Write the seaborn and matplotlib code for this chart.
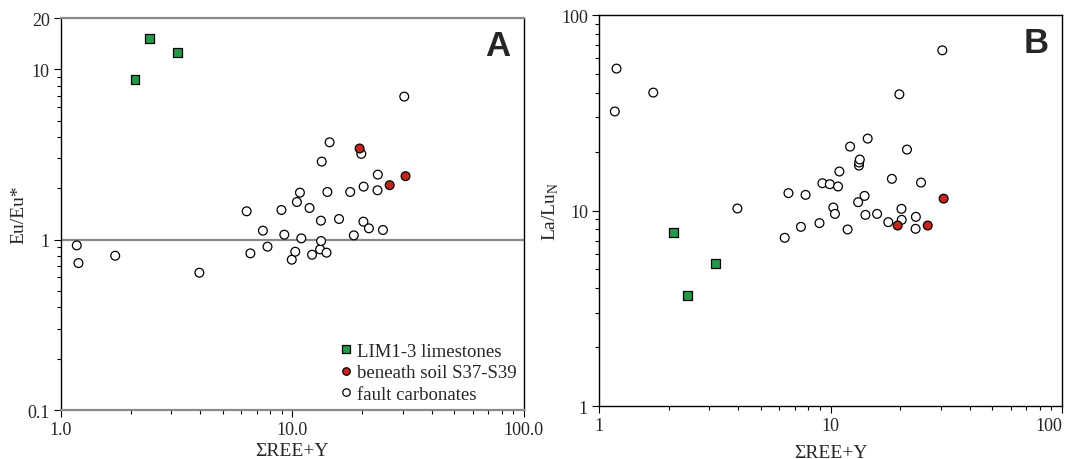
import numpy as np
import pandas as pd
import matplotlib
matplotlib.use('Agg')
import matplotlib.pyplot as plt
import seaborn as sns

# LIM1-3 limestones
lim_ree = [2.09, 2.42, 3.19]
lim_eu = [8.68, 15.2, 12.5]
lim_lalu = [7.69, 3.68, 5.34]

# beneath soil S37-S39
soil_ree = [19.5, 26.3, 30.8]
soil_eu = [3.43, 2.09, 2.36]
soil_lalu = [8.38, 8.38, 11.5]

# fault carbonates
fault_ree = [1.17, 1.19, 1.715, 3.96, 6.34, 6.58, 7.45, 7.8, 8.96, 9.22,
             9.93, 10.28, 10.45, 10.77, 10.92, 11.85, 12.15, 13.16, 13.27, 13.29,
             13.38, 14.03, 14.15, 14.47, 15.89, 17.76, 18.41, 19.83, 20.25, 20.3,
             21.39, 23.3, 23.37, 24.6, 30.4]
fault_eu = [0.926, 0.729, 0.805, 0.640, 1.468, 0.831, 1.130, 0.910, 1.494, 1.070,
            0.763, 0.850, 1.664, 1.889, 1.018, 1.535, 0.816, 0.877, 1.293, 0.982,
            2.873, 0.839, 1.906, 3.73, 1.323, 1.906, 1.060, 3.19, 1.276, 2.049,
            1.166, 1.950, 2.410, 1.140, 6.92]
fault_lalu = [32.1, 53.2, 40.1, 10.24, 7.25, 12.27, 8.25, 12.02, 8.62, 13.79,
              13.63, 10.36, 9.61, 13.27, 15.83, 8.00, 21.23, 11.03, 16.98, 17.6,
              18.23, 11.88, 9.50, 23.33, 9.61, 8.72, 14.52, 39.3, 10.2, 8.96,
              20.5, 8.06, 9.28, 13.90, 65.98]

groups = ['LIM1-3 limestones', 'beneath soil S37-S39', 'fault carbonates']

df = pd.concat([
    pd.DataFrame({'ree': fault_ree, 'eu': fault_eu, 'lalu': fault_lalu, 'group': groups[2]}),
    pd.DataFrame({'ree': soil_ree, 'eu': soil_eu, 'lalu': soil_lalu, 'group': groups[1]}),
    pd.DataFrame({'ree': lim_ree, 'eu': lim_eu, 'lalu': lim_lalu, 'group': groups[0]}),
], ignore_index=True)

palette = {groups[0]: '#25994a', groups[1]: '#c4261c', groups[2]: 'white'}
markers = {groups[0]: 's', groups[1]: 'o', groups[2]: 'o'}

sns.set_style('white')
plt.rcParams['font.family'] = ['Liberation Serif', 'DejaVu Serif']
plt.rcParams['mathtext.fontset'] = 'custom'
plt.rcParams['mathtext.rm'] = 'Liberation Serif'

fig = plt.figure(figsize=(10.68, 4.6), dpi=100)
axA = fig.add_axes([0.0571, 0.1065, 0.4335, 0.852])
axB = fig.add_axes([0.5609, 0.1152, 0.4335, 0.85])

for ax, ycol in [(axA, 'eu'), (axB, 'lalu')]:
    sns.scatterplot(data=df, x='ree', y=ycol, hue='group', style='group',
                    hue_order=groups, style_order=groups, palette=palette,
                    markers=markers, s=40, edgecolor='black', linewidth=0.9,
                    ax=ax, legend=(ax is axA), zorder=3)
    ax.set_xscale('log')
    ax.set_yscale('log')
    ax.set_xlim(1, 100)
    ax.tick_params(which='major', direction='out', length=5, width=0.8,
                   labelsize=13, color='black', pad=3)
    ax.tick_params(which='minor', direction='out', length=3, width=0.8, color='black')
    ax.tick_params(axis='both', which='both', bottom=True, left=True)
    ax.set_xlabel('\u03a3REE+Y', fontsize=14)

# panel A
axA.set_ylim(0.1, 20)
axA.axhline(1, color='#8a8a8a', lw=1.6, zorder=1)
axA.set_xticks([1, 10, 100])
axA.set_xticklabels(['1.0', '10.0', '100.0'])
axA.set_yticks([0.1, 1, 10, 20])
axA.set_yticklabels(['0.1', '1', '10', '20'])
axA.set_ylabel('Eu/Eu*', fontsize=14)
axA.yaxis.set_label_coords(-0.072, 0.5)
axA.xaxis.set_label_coords(0.5, -0.082)
for side in ['top', 'bottom']:
    axA.spines[side].set_color('#8a8a8a')
    axA.spines[side].set_linewidth(1.6)
for side in ['left', 'right']:
    axA.spines[side].set_color('black')
    axA.spines[side].set_linewidth(1.0)
axA.text(0.943, 0.93, 'A', transform=axA.transAxes, ha='center', va='center',
         fontsize=25, fontweight='bold', family='Liberation Sans')
leg = axA.legend(loc='lower right', frameon=False, fontsize=13.5, handlelength=0.8,
                 handletextpad=0.2, borderaxespad=0.1, borderpad=0.3,
                 labelspacing=0.22, markerscale=0.85)
for h in leg.legend_handles:
    h.set_markeredgecolor('black')

# panel B
axB.set_ylim(1, 100)
axB.set_xticks([1, 10, 100])
axB.set_xticklabels(['1', '10', '100'])
axB.get_xticklabels()[-1].set_horizontalalignment('right')
axB.set_yticks([1, 10, 100])
axB.set_yticklabels(['1', '10', '100'])
axB.set_ylabel('La/Lu$_\\mathregular{N}$', fontsize=14)
axB.yaxis.set_label_coords(-0.083, 0.5)
axB.xaxis.set_label_coords(0.5, -0.097)
for side in ['top', 'bottom', 'left', 'right']:
    axB.spines[side].set_color('black')
    axB.spines[side].set_linewidth(1.0)
axB.text(0.945, 0.93, 'B', transform=axB.transAxes, ha='center', va='center',
         fontsize=25, fontweight='bold', family='Liberation Sans')

fig.savefig('out.png', dpi=100)
